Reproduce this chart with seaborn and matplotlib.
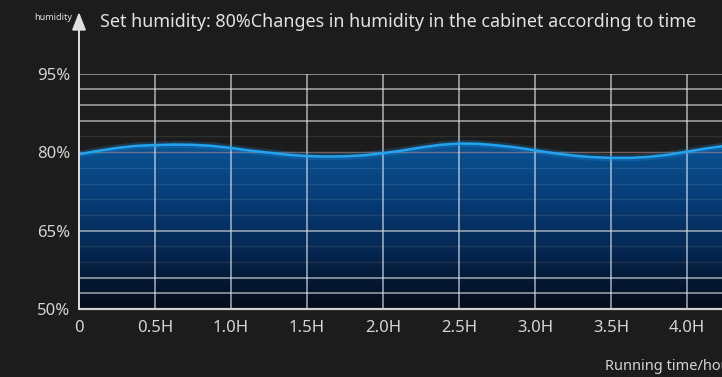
import numpy as np
import pandas as pd
import matplotlib
matplotlib.use("Agg")
import matplotlib.pyplot as plt
from matplotlib.colors import LinearSegmentedColormap
import seaborn as sns

# Cabinet humidity readings (set point 80%), sampled every 7.5 minutes
hours = [0, 0.125, 0.25, 0.375, 0.5, 0.625, 0.75, 0.875, 1.0, 1.125, 1.25,
         1.375, 1.5, 1.625, 1.75, 1.875, 2.0, 2.125, 2.25, 2.375, 2.5, 2.625,
         2.75, 2.875, 3.0, 3.125, 3.25, 3.375, 3.5, 3.625, 3.75, 3.875, 4.0,
         4.125, 4.25]
humidity = [79.6, 80.25, 80.8, 81.2, 81.35, 81.45, 81.4, 81.2, 80.8, 80.3,
            79.9, 79.5, 79.25, 79.15, 79.2, 79.4, 79.8, 80.3, 80.9, 81.4,
            81.65, 81.6, 81.3, 80.9, 80.35, 79.8, 79.35, 79.05, 78.9, 78.9,
            79.1, 79.5, 80.1, 80.7, 81.2]

x_ticks = [0, 0.5, 1.0, 1.5, 2.0, 2.5, 3.0, 3.5, 4.0]
x_tick_labels = ["0", "0.5H", "1.0H", "1.5H", "2.0H", "2.5H", "3.0H", "3.5H", "4.0H"]
y_ticks = [50, 65, 80, 95]
y_tick_labels = ["50%", "65%", "80%", "95%"]
bright_levels = [53, 56, 65, 86, 89, 92, 95]
faint_levels = [59, 62, 68, 71, 74, 77, 83]

title = "Set humidity: 80%Changes in humidity in the cabinet according to time"
y_label = "humidity"
x_label = "Running time/hour"

BG = "#1d1c1c"
TXT = "#d4d4d4"

sns.set_theme(style="dark")
plt.rcParams["font.family"] = ["Noto Sans", "DejaVu Sans"]

df = pd.DataFrame({"hours": hours, "humidity": humidity})

fig = plt.figure(figsize=(7.22, 3.77), dpi=100, facecolor=BG)
ax = fig.add_axes([79 / 722, 68 / 377, 1 - 79 / 722, 235.3 / 377])
ax.set_facecolor(BG)
xmax = 643 / 152

# Gradient area under the curve
poly = ax.fill_between(df["hours"], df["humidity"], 50, facecolor="none",
                       edgecolor="none")
cmap = LinearSegmentedColormap.from_list(
    "depth", ["#040a18", "#05264f", "#073d78", "#0a5596"])
grad = np.linspace(0, 1, 256).reshape(-1, 1)
im = ax.imshow(grad, extent=[0, xmax, 50, 82], origin="lower", cmap=cmap,
               aspect="auto", zorder=1)
im.set_clip_path(poly.get_paths()[0], transform=ax.transData)

# Horizontal guide lines
for lv in bright_levels:
    ax.axhline(lv, color="#d8d8d8", lw=1.1, alpha=0.75, zorder=2)
for lv in faint_levels:
    ax.axhline(lv, color="#c8c8c8", lw=1.0, alpha=0.12, zorder=2)
ax.axhline(80, color="#c09090", lw=1.0, alpha=0.55, zorder=2)

# Vertical guide lines
for xv in x_ticks[1:]:
    ax.axvline(xv, color="#d8e4f0", lw=1.1, alpha=0.75, zorder=2)

# Humidity curve with soft glow
sns.lineplot(data=df, x="hours", y="humidity", ax=ax, color="#1d8fd8",
             lw=5, alpha=0.25, zorder=4)
sns.lineplot(data=df, x="hours", y="humidity", ax=ax, color="#23a3ee",
             lw=1.8, zorder=5)

ax.set_xlim(0, xmax)
ax.set_ylim(50, 95)
for s in ax.spines.values():
    s.set_visible(False)

# Axes lines
ax.axhline(50, color="#d0d0d0", lw=1.6, zorder=6, clip_on=False)
ax.annotate("", xy=(0, 106.8), xytext=(0, 50), xycoords="data",
            annotation_clip=False,
            arrowprops=dict(arrowstyle="-|>,head_length=0.9,head_width=0.35",
                            color="#e0e0e0", lw=1.4, shrinkA=0, shrinkB=0),
            zorder=7)

ax.set_xticks(x_ticks)
ax.set_xticklabels(x_tick_labels)
ax.set_yticks(y_ticks)
ax.set_yticklabels(y_tick_labels)
ax.tick_params(axis="x", length=0, pad=8, labelsize=12, colors=TXT)
ax.tick_params(axis="y", length=0, pad=6, labelsize=12, colors=TXT)
ax.grid(False)
ax.set_xlabel("")
ax.set_ylabel("")

fig.text(100 / 722, 1 - 22 / 377, title, va="center", ha="left",
         fontsize=12.9, color="#e2e2e2")
fig.text(72 / 722, 1 - 17 / 377, y_label, va="center", ha="right",
         fontsize=6.5, color="#e0e0e0", weight="bold")
fig.text(605 / 722, 1 - 367 / 377, x_label, va="center", ha="left",
         fontsize=10.5, color=TXT)

fig.savefig("out.png", dpi=100, facecolor=BG)
